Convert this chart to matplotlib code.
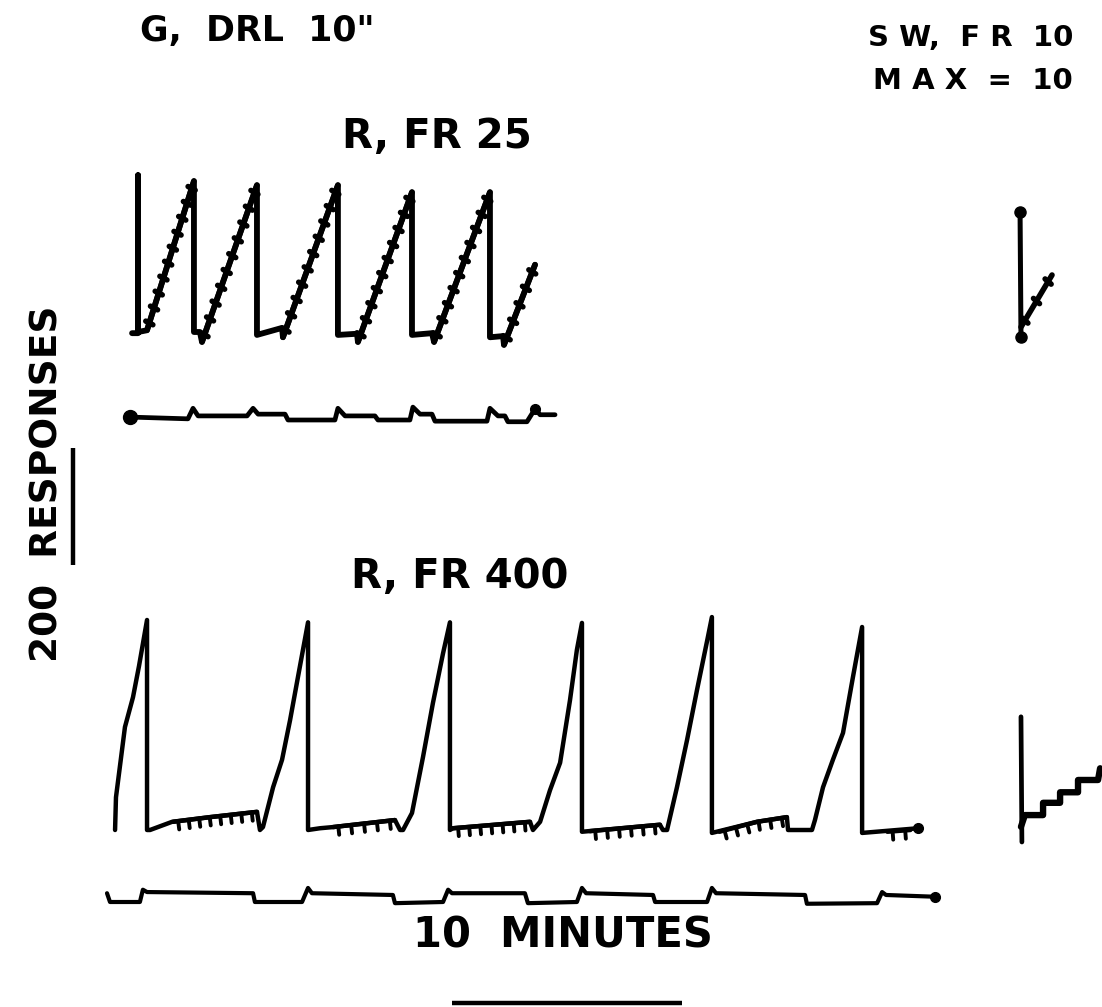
"""
Cumulative records: G on DRL 10", R on FR 25 / FR 400, SW on FR 10
"""
import numpy as np
import matplotlib
matplotlib.use("Agg")
import matplotlib.pyplot as plt
import matplotlib.patheffects as pe

W, H, DPI = 1102, 1007, 100
PX_PER_MIN = 23.0            # 10 minutes = 230 px
PX_PER_RESP = 117.0 / 200.0  # 200 responses = 117 px

# --- R, FR 25 record (minutes, cumulative responses since reset) ---
FR25_T = [0.09, 0.35, 0.35, 0.35, 0.74, 2.78, 2.78, 3.04, 3.13, 5.52, 5.52, 6.61, 6.65,
          9.04, 9.04, 9.87, 9.91, 12.26, 12.26, 13.13, 13.22, 15.65, 15.65, 16.22, 16.26, 17.61]
FR25_R = [-2, -2, 268, 0, 3, 258, 0, 0, -17, 251, -5, 7, -9,
          251, -5, -3, -17, 239, -5, -2, -17, 239, -9, -7, -22, 115]
EV25_T = [0, 2.52, 2.74, 2.96, 5.09, 5.35, 5.57, 6.74, 6.87, 8.91, 9.04, 9.35, 10.65, 10.78,
          12.17, 12.30, 12.61, 13.13, 13.26, 15.52, 15.65, 16.0, 16.30, 16.43, 17.26, 17.61, 17.83, 18.48]
EV25_D = [5, 2, 20, 7, 7, 20, 10, 10, 0, 0, 20, 7, 7, 0,
          0, 22, 10, 10, -2, -2, 20, 7, 7, -3, -3, 19, 9, 9]

# --- R, FR 400 record ---
FR400_T = [0.22, 0.26, 0.65, 1.0, 1.26, 1.61, 1.61, 1.74, 2.70, 4.35, 6.39,
           6.52, 6.65, 7.09, 7.48, 7.83, 8.17, 8.61, 8.61, 9.13, 9.70, 12.39,
           12.61, 12.74, 13.13, 13.61, 14.04, 14.48, 14.78, 14.78, 14.91, 18.26,
           18.39, 18.70, 19.13, 19.57, 20.0, 20.30, 20.52, 20.52, 23.91,
           24.04, 24.22, 24.65, 25.09, 25.52, 25.96, 26.17, 26.17, 28.13, 29.43,
           29.48, 30.52, 30.65, 31.0, 31.43, 31.87, 32.30, 32.70, 32.70, 35.13]
FR400_R = [0, 56, 176, 227, 280, 359, 0, 0, 14, 22, 31,
           0, 5, 73, 120, 188, 261, 355, 0, 3, 5, 17,
           0, 0, 29, 125, 217, 302, 355, 0, 3, 14,
           0, 14, 68, 115, 222, 308, 354, -3, 9,
           0, 0, 73, 154, 239, 323, 364, -5, 14, 22,
           0, 0, 17, 73, 120, 166, 261, 347, -5, 3]
# stretches of the baseline carrying the small downward pips
PIPS400 = [([2.74, 4.35, 6.39], [14, 22, 31]),
           ([9.70, 12.39], [5, 17]),
           ([14.91, 18.26], [3, 14]),
           ([20.87, 23.91], [-2, 9]),
           ([26.5, 28.13, 29.43], [-3, 14, 22]),
           ([33.8, 34.8], [-3, 0])]
EV400_T = [-0.13, 0, 1.30, 1.43, 1.61, 6.22, 6.30, 8.35, 8.61, 8.78, 12.30, 12.39, 14.48, 14.70,
           14.87, 18.04, 18.17, 20.30, 20.52, 20.70, 23.61, 23.70, 25.96, 26.17, 26.35, 30.22,
           30.30, 33.35, 33.57, 33.74, 35.87]
EV400_D = [15, 0, 0, 21, 17, 15, 0, 0, 24, 15, 12, -2, 0, 21,
           15, 15, -2, 0, 24, 15, 12, 0, 0, 24, 15, 12,
           -3, -2, 17, 12, 9]

# --- SW, FR 10 (MAX = 10) ---
SW_TOP_T, SW_TOP_R = [0.22, 0.26], [214, 0]
SW_TOP_RAMP_T, SW_TOP_RAMP_R = [0.26, 1.61], [17, 106]
SW_BOT_T, SW_BOT_R = [0.26, 0.30], [214, 0]
SW_STEP_T = [0.26, 0.43, 1.22, 1.22, 1.96, 1.96, 2.74, 2.74, 3.61, 3.70]
SW_STEP_R = [26, 46, 46, 67, 67, 85, 85, 106, 106, 126]

RESP_BAR = 200   # responses
MIN_BAR = 10     # minutes

# record origins on the sheet (pixels)
ORG_FR25, ORG_EV25 = (130, 332), (130, 420)
ORG_FR400, ORG_EV400 = (110, 830), (110, 902)
ORG_SW_TOP, ORG_SW_BOT = (1015, 337), (1015, 842)

fig = plt.figure(figsize=(W / DPI, H / DPI), dpi=DPI)
ax = fig.add_axes([0, 0, 1, 1])
ax.set_xlim(0, W / PX_PER_MIN)
ax.set_ylim(0, H / PX_PER_RESP)
ax.axis("off")


def origin(org):
    return org[0] / PX_PER_MIN, (H - org[1]) / PX_PER_RESP


def trace(t, r, org, lw=3.4, cap="round", **kw):
    x0, y0 = origin(org)
    return ax.plot(x0 + np.asarray(t), y0 + np.asarray(r), color="black", lw=lw,
                   solid_capstyle=cap, solid_joinstyle="round", **kw)


# pen wiggle on the FR ramps: short rounded ticks both sides of the stroke
wiggle = [pe.TickedStroke(spacing=11, angle=80, length=0.26, linewidth=4.0, capstyle="round"),
          pe.TickedStroke(spacing=11, angle=-100, length=0.26, linewidth=4.0, capstyle="round"),
          pe.Normal()]
pips = [pe.TickedStroke(spacing=7.5, angle=-90, length=0.8, linewidth=2.8, capstyle="round"),
        pe.Normal()]

# FR 25 record, ramps drawn with the pen wiggle
trace(FR25_T, FR25_R, ORG_FR25, lw=4.2)
for i in range(len(FR25_T) - 1):
    if FR25_R[i + 1] - FR25_R[i] > 80 and FR25_T[i + 1] > FR25_T[i]:
        trace(FR25_T[i:i + 2], FR25_R[i:i + 2], ORG_FR25, lw=4.0, path_effects=wiggle)
trace(EV25_T, EV25_D, ORG_EV25, lw=3.4)
trace(EV25_T[:1], EV25_D[:1], ORG_EV25, marker="o", ms=10)
trace(EV25_T[-3:-2], EV25_D[-3:-2], ORG_EV25, marker="o", ms=7)

# FR 400 record
trace(FR400_T, FR400_R, ORG_FR400, lw=3.2)
for pt, pr in PIPS400:
    trace(pt, pr, ORG_FR400, lw=3.2, path_effects=pips)
trace(FR400_T[-1:], FR400_R[-1:], ORG_FR400, marker="o", ms=7)
trace(EV400_T, EV400_D, ORG_EV400, lw=3.0)
trace(EV400_T[-1:], EV400_D[-1:], ORG_EV400, marker="o", ms=7)

# SW records
trace(SW_TOP_T, SW_TOP_R, ORG_SW_TOP, lw=3.6)
trace(SW_TOP_T[:1], SW_TOP_R[:1], ORG_SW_TOP, marker="o", ms=8)
trace(SW_TOP_T[1:], SW_TOP_R[1:], ORG_SW_TOP, marker="o", ms=8)
trace(SW_TOP_RAMP_T, SW_TOP_RAMP_R, ORG_SW_TOP, lw=4.0, path_effects=wiggle)
trace(SW_BOT_T, SW_BOT_R, ORG_SW_BOT, lw=3.4)
trace(SW_STEP_T, SW_STEP_R, ORG_SW_BOT, lw=4.6)

# calibration bars
trace([0, 0], [0, RESP_BAR], (73, 565), lw=3.2, cap="butt")
trace([0, MIN_BAR], [0, 0], (452, 1003), lw=3.2, cap="butt")

font = dict(family="DejaVu Sans", weight="bold", color="black")


def label(text, x, y, size, ha="center", rot=0):
    fig.text(x / W, 1 - y / H, text, fontsize=size, ha=ha, va="center", rotation=rot, **font)


label('G,  DRL  10"', 140, 31, 25, ha="left")
label("S W,  F R  10", 1073, 38, 21, ha="right")
label("M A X  =  10", 1073, 81, 21, ha="right")
label("R, FR 25", 437, 137, 29)
label("R, FR 400", 460, 577, 29)
label("10  MINUTES", 563, 935, 30)
label("200  RESPONSES", 48, 484, 27, rot=90)

plt.savefig("out.png", dpi=DPI)
plt.close()
